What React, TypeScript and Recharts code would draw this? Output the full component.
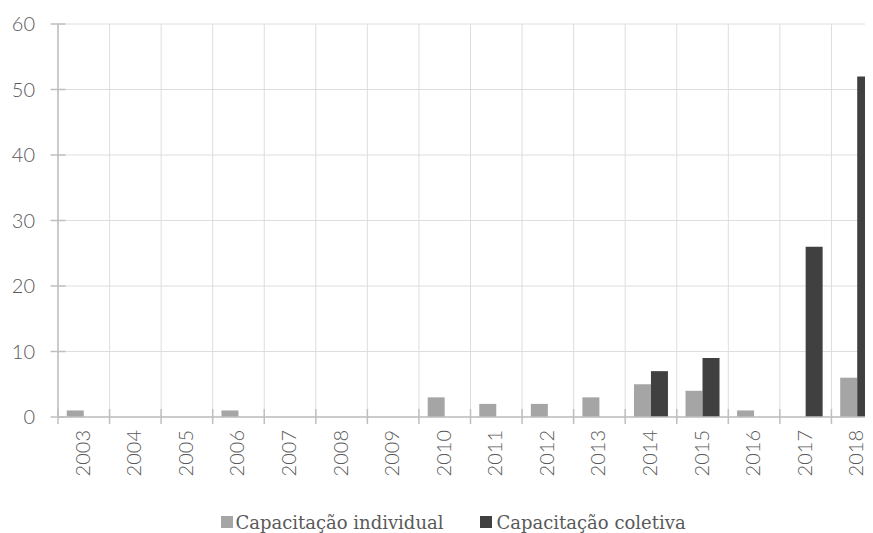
import { BarChart, Bar, XAxis, YAxis, CartesianGrid, Legend } from "recharts";

const years = ["2003", "2004", "2005", "2006", "2007", "2008", "2009", "2010", "2011", "2012", "2013", "2014", "2015", "2016", "2017", "2018"];
const individual = [1, 0, 0, 1, 0, 0, 0, 3, 2, 2, 3, 5, 4, 1, 0, 6];
const coletiva = [0, 0, 0, 0, 0, 0, 0, 0, 0, 0, 0, 7, 9, 0, 26, 52];
const yTicks = [0, 10, 20, 30, 40, 50, 60];

const data = years.map((year, i) => ({
  year,
  individual: individual[i],
  coletiva: coletiva[i],
}));

const AXIS = "#bfbfbf";
const TEXT = "#595959";
const FONT = "Lato, 'Open Sans', sans-serif";

const YTick = (props: any) => {
  const { x, y, payload } = props;
  return (
    <g>
      <line x1={x - 7.5} x2={x + 7.5} y1={y} y2={y} stroke={AXIS} strokeWidth={1.5} />
      <text x={x - 23} y={y} dy="0.35em" textAnchor="end" fill={TEXT} fontSize={20} fontWeight={300} fontFamily={FONT}>
        {payload.value}
      </text>
    </g>
  );
};

// tick line sits on the left edge of each band, label in the middle
const YearTick = (props: any) => {
  const { x, y, payload } = props;
  const edge = payload.coordinate - (payload.offset || 0);
  return (
    <g>
      <line x1={edge} x2={edge} y1={y - 8} y2={y + 7} stroke={AXIS} strokeWidth={1.5} />
      <text
        x={x}
        y={y + 13}
        dy="0.3em"
        textAnchor="end"
        transform={`rotate(-90, ${x}, ${y + 13})`}
        fill={TEXT}
        fontSize={20}
        fontWeight={300}
        fontFamily={FONT}
      >
        {payload.value}
      </text>
    </g>
  );
};

const bandEdges = ({ xAxis }: any) => {
  const s = xAxis && xAxis.scale;
  if (typeof s === "function") return years.map((y) => s(y));
  if (s && typeof s.map === "function") return years.map((y) => s.map(y));
  return ((xAxis && xAxis.ticks) || []).map((t: any) => t.coordinate - (t.offset || 0));
};

const LegendContent = () => (
  <div
    style={{
      display: "flex",
      justifyContent: "center",
      height: 22,
      alignItems: "center",
      fontFamily: "'DejaVu Serif', serif",
      fontSize: 18,
      color: TEXT,
      paddingLeft: 16,
    }}
  >
    <span style={{ display: "flex", alignItems: "center", marginRight: 37 }}>
      <span style={{ width: 12, height: 12, background: "#a5a5a5", marginRight: 2 }} />
      Capacitação individual
    </span>
    <span style={{ display: "flex", alignItems: "center" }}>
      <span style={{ width: 12, height: 12, background: "#404040", marginRight: 4 }} />
      Capacitação coletiva
    </span>
  </div>
);

export default function App() {
  return (
    <div style={{ width: 865, height: 525, overflow: "hidden" }}>
      <BarChart
        width={880}
        height={525}
        data={data}
        margin={{ top: 16, right: 5, left: 0, bottom: 0 }}
        barCategoryGap="17%"
        barGap={0}
      >
        <CartesianGrid stroke="#dedede" verticalCoordinatesGenerator={bandEdges} />
        <XAxis
          dataKey="year"
          height={94}
          axisLine={{ stroke: AXIS, strokeWidth: 1.5 }}
          tickLine={false}
          tickSize={0}
          tickMargin={0}
          interval={0}
          tick={<YearTick />}
        />
        <YAxis
          width={50}
          domain={[0, 60]}
          ticks={yTicks}
          tickSize={0}
          tickMargin={0}
          tickLine={false}
          axisLine={{ stroke: AXIS, strokeWidth: 1.5 }}
          tick={<YTick />}
          interval={0}
        />
        <Legend verticalAlign="bottom" content={<LegendContent />} />
        <Bar dataKey="individual" fill="#a5a5a5" isAnimationActive={false} />
        <Bar dataKey="coletiva" fill="#404040" isAnimationActive={false} />
      </BarChart>
    </div>
  );
}
